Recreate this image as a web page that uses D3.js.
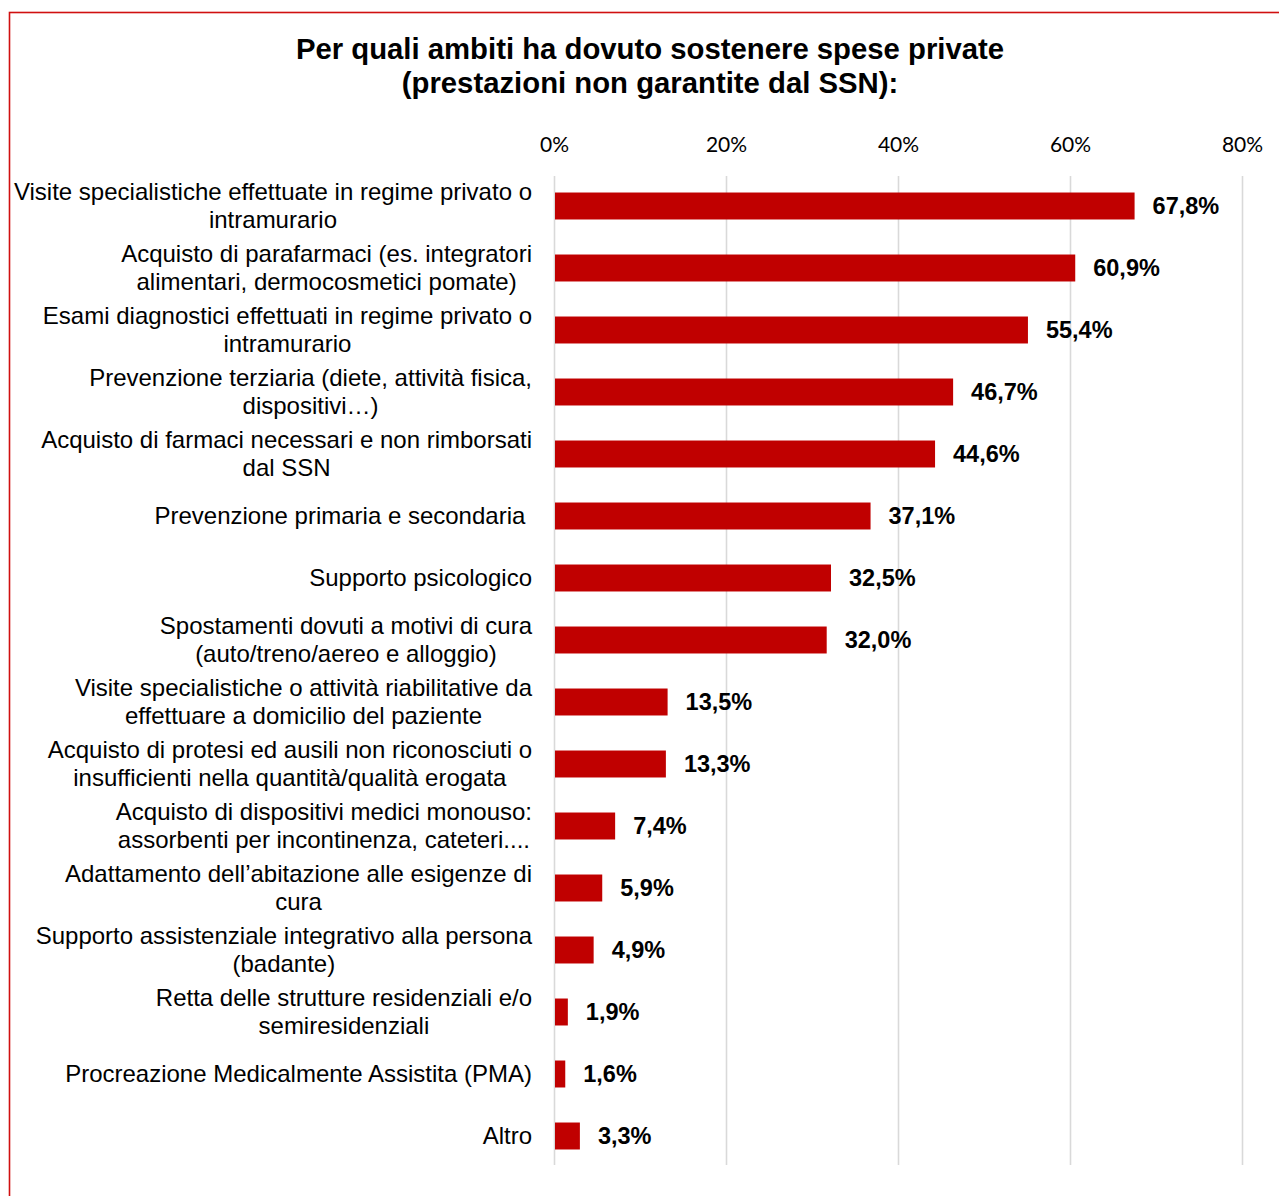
<!DOCTYPE html>
<html>
<head>
<meta charset="utf-8">
<script src="https://cdn.jsdelivr.net/npm/d3@7"></script>
<style>
  html, body { margin: 0; padding: 0; background: #fff; }
  svg { display: block; }
</style>
</head>
<body>
<svg id="chart" width="1279" height="1196"></svg>
<script>
const titleLines = [
  "Per quali ambiti ha dovuto sostenere spese private",
  "(prestazioni non garantite dal SSN):"
];
const categories = [
  "Visite specialistiche effettuate in regime privato o\nintramurario",
  "Acquisto di parafarmaci (es. integratori\nalimentari, dermocosmetici pomate)",
  "Esami diagnostici effettuati in regime privato o\nintramurario",
  "Prevenzione terziaria (diete, attività fisica,\ndispositivi…)",
  "Acquisto di farmaci necessari e non rimborsati\ndal SSN",
  "Prevenzione primaria e secondaria\u00A0",
  "Supporto psicologico",
  "Spostamenti dovuti a motivi di cura\n(auto/treno/aereo e alloggio)",
  "Visite specialistiche o attività riabilitative da\neffettuare a domicilio del paziente",
  "Acquisto di protesi ed ausili non riconosciuti o\ninsufficienti nella quantità/qualità erogata",
  "Acquisto di dispositivi medici monouso:\nassorbenti per incontinenza, cateteri....",
  "Adattamento dell’abitazione alle esigenze di\ncura",
  "Supporto assistenziale integrativo alla persona\n(badante)",
  "Retta delle strutture residenziali e/o\nsemiresidenziali",
  "Procreazione Medicalmente Assistita (PMA)",
  "Altro"
];
const values = [67.8, 60.9, 55.4, 46.7, 44.6, 37.1, 32.5, 32.0, 13.5, 13.3, 7.4, 5.9, 4.9, 1.9, 1.6, 3.3];
const tickValues = [0, 20, 40, 60, 80];

const svg = d3.select("#chart");
const red = "#C00000";

// frame (top and left edges visible)
svg.append("rect")
  .attr("x", 9.5).attr("y", 12.5)
  .attr("width", 1400).attr("height", 1400)
  .attr("fill", "none").attr("stroke", "#d01010").attr("stroke-width", 1.6);

// title
svg.append("g").selectAll("text").data(titleLines).join("text")
  .attr("x", 650).attr("y", (d, i) => 59 + i * 34)
  .attr("text-anchor", "middle")
  .attr("font-family", "'Liberation Sans', Arial, sans-serif")
  .attr("font-weight", "bold").attr("font-size", 29.3)
  .attr("fill", "#000")
  .text(d => d);

const x = d3.scaleLinear().domain([0, 80]).range([554, 1242]);
const y = d3.scaleBand().domain(categories).range([175, 1167])
  .paddingInner(0.565).paddingOuter(0.2825);

const gridTop = 176, gridBottom = 1165;

const axis = svg.append("g")
  .attr("transform", `translate(0,${gridTop})`)
  .call(d3.axisTop(x).tickValues(tickValues).tickFormat(d => d + "%")
    .tickSize(-(gridBottom - gridTop)).tickPadding(24));
axis.select(".domain").remove();
axis.selectAll(".tick line").attr("stroke", "#d9d9d9").attr("stroke-width", 1.6);
axis.selectAll(".tick text")
  .attr("font-family", "Lato, 'Open Sans', sans-serif")
  .attr("font-size", 21).attr("fill", "#000");

// bars
const barEnd = d => x(d) - 2.5;
svg.append("g").selectAll("rect").data(values).join("rect")
  .attr("x", x(0) + 1)
  .attr("y", (d, i) => y(categories[i]))
  .attr("width", d => barEnd(d) - (x(0) + 1))
  .attr("height", y.bandwidth())
  .attr("fill", red);

// value labels
svg.append("g").selectAll("text").data(values).join("text")
  .attr("x", d => barEnd(d) + 18)
  .attr("y", (d, i) => y(categories[i]) + y.bandwidth() / 2)
  .attr("dy", "0.35em")
  .attr("font-family", "'Liberation Sans', Arial, sans-serif")
  .attr("font-weight", "bold").attr("font-size", 23.5)
  .attr("fill", "#000")
  .text(d => d.toFixed(1).replace(".", ",") + "%");

// category labels (lines centered within a block right-aligned at 532)
const labelRight = 532, lineH = 28;
const lg = svg.append("g");
categories.forEach((c, i) => {
  const lines = c.split("\n");
  const cy = y(c) + y.bandwidth() / 2;
  const g = lg.append("g");
  const texts = g.selectAll("text").data(lines).join("text")
    .attr("y", (d, j) => cy + (j - (lines.length - 1) / 2) * lineH)
    .attr("dy", "0.35em")
    .attr("text-anchor", "middle")
    .attr("font-family", "'Liberation Sans', Arial, sans-serif")
    .attr("font-size", 24).attr("fill", "#000")
    .style("white-space", "pre")
    .text(d => d);
  let maxW = 0;
  texts.each(function () { maxW = Math.max(maxW, this.getComputedTextLength()); });
  texts.attr("x", labelRight - maxW / 2);
});
</script>
</body>
</html>
